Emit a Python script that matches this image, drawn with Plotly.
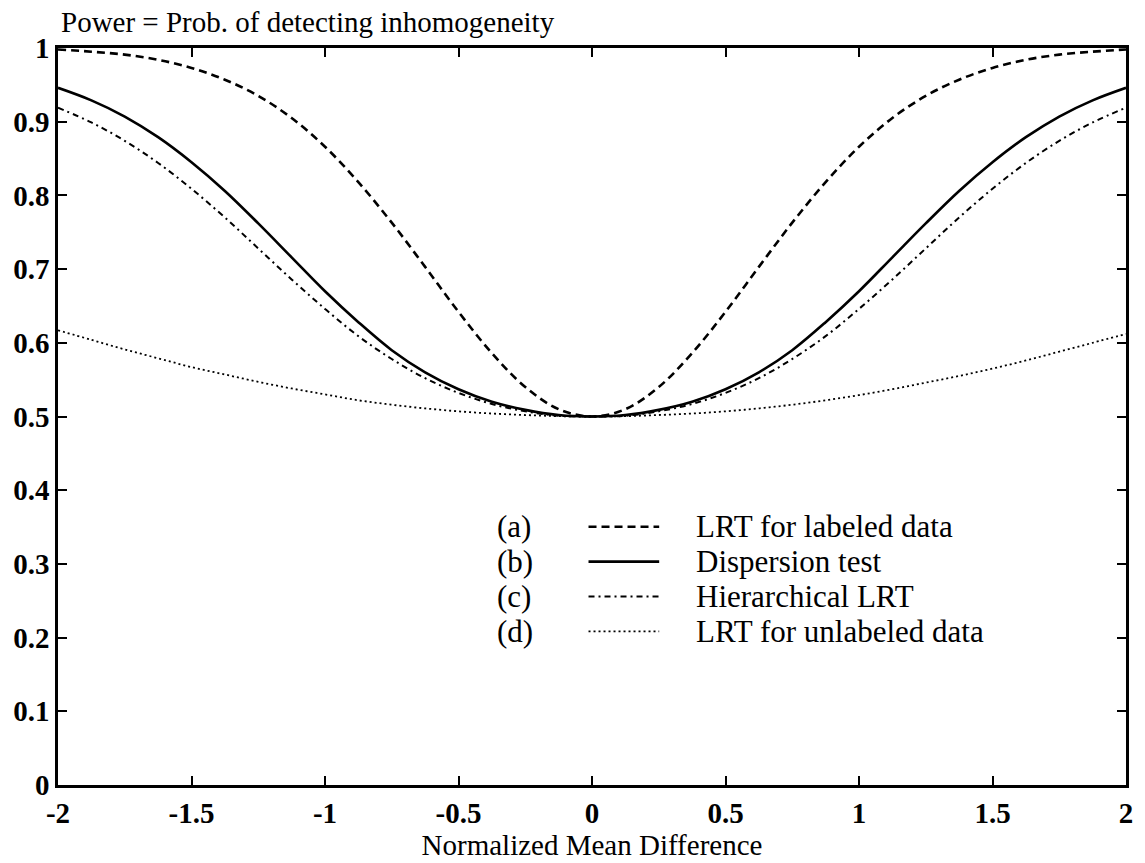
import plotly.graph_objects as go

# x grid (normalized mean difference)
x = [-2.0, -1.875, -1.75, -1.625, -1.5, -1.375, -1.25, -1.125, -1.0, -0.875, -0.75, -0.625,
     -0.5, -0.375, -0.25, -0.125, 0.0, 0.125, 0.25, 0.375, 0.5, 0.625, 0.75, 0.875,
     1.0, 1.125, 1.25, 1.375, 1.5, 1.625, 1.75, 1.875, 2.0]

# (a) LRT for labeled data
lrt_labeled = [0.998, 0.995, 0.991, 0.984, 0.973, 0.957, 0.935, 0.905, 0.866, 0.818, 0.763, 0.703,
               0.642, 0.586, 0.540, 0.510, 0.500, 0.510, 0.540, 0.586, 0.642, 0.703, 0.763, 0.818,
               0.866, 0.905, 0.935, 0.957, 0.973, 0.984, 0.991, 0.995, 0.998]
# (b) Dispersion test
dispersion = [0.946, 0.929, 0.907, 0.879, 0.845, 0.806, 0.762, 0.716, 0.670, 0.628, 0.590, 0.560,
              0.537, 0.520, 0.509, 0.502, 0.500, 0.502, 0.509, 0.520, 0.537, 0.560, 0.590, 0.628,
              0.670, 0.716, 0.762, 0.806, 0.845, 0.879, 0.907, 0.929, 0.946]
# (c) Hierarchical LRT
hierarchical = [0.919, 0.899, 0.874, 0.844, 0.809, 0.770, 0.728, 0.686, 0.646, 0.609, 0.578, 0.552,
                0.532, 0.517, 0.507, 0.501, 0.500, 0.501, 0.507, 0.517, 0.532, 0.552, 0.578, 0.609,
                0.646, 0.686, 0.728, 0.770, 0.809, 0.844, 0.874, 0.899, 0.919]
# (d) LRT for unlabeled data
lrt_unlabeled = [0.617, 0.604, 0.591, 0.579, 0.567, 0.557, 0.547, 0.538, 0.530, 0.522, 0.516, 0.511,
                 0.507, 0.504, 0.502, 0.5005, 0.500, 0.5005, 0.502, 0.504, 0.507, 0.511, 0.516, 0.522,
                 0.529, 0.537, 0.546, 0.555, 0.565, 0.576, 0.588, 0.600, 0.612]

series_tags = ["(a)", "(b)", "(c)", "(d)"]
series_names = ["LRT for labeled data", "Dispersion test", "Hierarchical LRT", "LRT for unlabeled data"]

x_tickvals = [-2, -1.5, -1, -0.5, 0, 0.5, 1, 1.5, 2]
x_ticktext = ["-2", "-1.5", "-1", "-0.5", "0", "0.5", "1", "1.5", "2"]
y_tickvals = [0, 0.1, 0.2, 0.3, 0.4, 0.5, 0.6, 0.7, 0.8, 0.9, 1]
y_ticktext = ["0", "0.1", "0.2", "0.3", "0.4", "0.5", "0.6", "0.7", "0.8", "0.9", "1"]

FONT = "Times New Roman, Liberation Serif, DejaVu Serif, serif"
FS = 29
styles = [
    dict(color="black", width=2.6, dash="8px,5px"),
    dict(color="black", width=2.6, dash="solid"),
    dict(color="black", width=2.0, dash="6px,4px,2px,4px"),
    dict(color="black", width=1.8, dash="2px,3px"),
]

fig = go.Figure()
for ys, name, st in zip([lrt_labeled, dispersion, hierarchical, lrt_unlabeled], series_names, styles):
    fig.add_trace(go.Scatter(x=x, y=ys, mode="lines", name=name, line=dict(shape="spline", **st),
                             showlegend=False))

W, H = 1145, 863
ml, mr, mt, mb = 58, 14, 48, 76
pw = W - ml - mr
ph = H - mt - mb

def px_x(p):
    return (p - ml) / pw

def px_y(p):
    return (H - mb - p) / ph

# manual legend
row_y = [528, 563, 598, 633]
for tag, name, st, ry in zip(series_tags, series_names, styles, row_y):
    fig.add_annotation(x=px_x(497), y=px_y(ry), xref="paper", yref="paper", text=tag,
                       showarrow=False, xanchor="left", yanchor="middle",
                       font=dict(family=FONT, size=31, color="black"))
    fig.add_shape(type="line", xref="paper", yref="paper", x0=px_x(591), x1=px_x(662),
                  y0=px_y(ry), y1=px_y(ry), line=st)
    fig.add_annotation(x=px_x(697), y=px_y(ry), xref="paper", yref="paper", text=name,
                       showarrow=False, xanchor="left", yanchor="middle",
                       font=dict(family=FONT, size=31, color="black"))

fig.add_annotation(x=px_x(59), y=px_y(22), xref="paper", yref="paper",
                   text="Power = Prob. of detecting inhomogeneity", showarrow=False,
                   xanchor="left", yanchor="middle", font=dict(family=FONT, size=FS, color="black"))

axis_common = dict(showgrid=False, zeroline=False, showline=True, linecolor="black", linewidth=2.5,
                   mirror="ticks", ticks="inside", ticklen=9, tickwidth=2, tickcolor="black",
                   tickfont=dict(family=FONT, size=FS, color="black", weight="bold"))

fig.update_layout(
    width=W, height=H,
    margin=dict(l=ml, r=mr, t=mt, b=mb),
    paper_bgcolor="white", plot_bgcolor="white",
    xaxis=dict(range=[-2, 2], tickvals=x_tickvals, ticktext=x_ticktext,
               title=dict(text="Normalized Mean Difference", font=dict(family=FONT, size=FS, color="black"),
                          standoff=2),
               **axis_common),
    yaxis=dict(range=[0, 1], tickvals=y_tickvals, ticktext=y_ticktext, ticklabelstandoff=0,
               **axis_common),
)

fig.write_html("out.html")
